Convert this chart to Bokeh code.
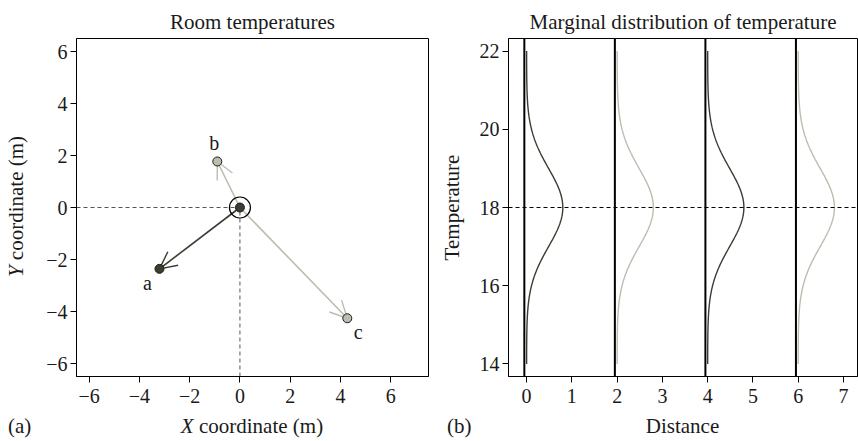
import numpy as np
from bokeh.plotting import figure
from bokeh.layouts import row, column
from bokeh.models import Arrow, OpenHead, FixedTicker, Range1d, Span, ColumnDataSource, Div
from bokeh.core.properties import value
from bokeh.embed import file_html
from bokeh.resources import INLINE

FONT = "Liberation Serif"
DARK = "#3c3c32"
LIGHT = "#bdbcb0"
INK = "#1a1a1a"

# ---- panel (a): sensor positions around the heater ----
room_names = ["a", "b", "c"]
room_x = [-3.2, -0.9, 4.27]
room_y = [-2.36, 1.77, -4.26]
room_colors = [DARK, LIGHT, LIGHT]
center_x = [0.0]
center_y = [0.0]
ticks_a = [-6, -4, -2, 0, 2, 4, 6]

# ---- panel (b): marginal temperature densities ----
curve_offsets = [0, 2, 4, 6]
curve_colors = [DARK, LIGHT, DARK, LIGHT]
baseline_x = [-0.05, 1.95, 3.95, 5.95]
temp_mean = 18.0
temp_sd = 1.0
peak_height = 0.8
temp_min, temp_max = 14.0, 22.0
ticks_b_x = [0, 1, 2, 3, 4, 5, 6, 7]
ticks_b_y = [14, 16, 18, 20, 22]


def minus(v):
    return str(v).replace("-", "\u2212")


def style(p, xticks, yticks):
    p.xgrid.visible = False
    p.ygrid.visible = False
    p.outline_line_color = "black"
    p.outline_line_width = 1
    p.background_fill_color = "white"
    p.border_fill_color = "white"
    p.title.text_font = FONT
    p.title.text_font_size = "21px"
    p.title.text_font_style = "normal"
    p.title.text_color = INK
    p.title.align = "center"
    p.title.standoff = 9
    for ax, ticks in ((p.xaxis, xticks), (p.yaxis, yticks)):
        ax.ticker = FixedTicker(ticks=ticks)
        ax.major_label_overrides = {t: minus(t) for t in ticks}
        ax.axis_line_color = "black"
        ax.major_tick_line_color = "black"
        ax.major_tick_out = 6
        ax.major_tick_in = 0
        ax.minor_tick_line_color = None
        ax.major_label_text_font = FONT
        ax.major_label_text_font_size = "20px"
        ax.major_label_text_color = INK
        ax.axis_label_text_font = FONT
        ax.axis_label_text_font_size = "21px"
        ax.axis_label_text_font_style = "normal"
        ax.axis_label_text_color = INK
    p.xaxis.major_label_standoff = 6
    p.yaxis.major_label_standoff = 3


FIG_H = 415

# ---------------- left figure ----------------
p1 = figure(width=399, height=FIG_H, x_range=Range1d(-6.5, 7.5), y_range=Range1d(-6.5, 6.5),
            output_backend="svg", toolbar_location=None, title="Room temperatures",
            min_border_left=46, min_border_right=1, min_border_top=38, min_border_bottom=39)
style(p1, ticks_a, ticks_a)

# dashed guides to the heater position
p1.line([p1.x_range.start, center_x[0]], [center_y[0], center_y[0]],
        line_color="#555555", line_dash="4 3", line_width=1)
p1.line([center_x[0], center_x[0]], [p1.y_range.start, center_y[0]],
        line_color="#555555", line_dash="4 3", line_width=1)

for x, y, c in zip(room_x, room_y, room_colors):
    arr = Arrow(end=OpenHead(size=17, line_color=c, line_width=1.4),
                x_start=center_x[0], y_start=center_y[0], x_end=x, y_end=y,
                line_color=c, line_width=1.6, level="underlay")
    p1.add_layout(arr)

src = ColumnDataSource(dict(x=room_x, y=room_y, c=room_colors, name=room_names,
                            dx=[-12, -3, 11], dy=[14, -18, 14]))
p1.scatter("x", "y", source=src, size=9, fill_color="c", line_color="#1e1e18", line_width=1)
p1.scatter(center_x, center_y, size=9, fill_color=DARK, line_color="#1e1e18", line_width=1)
p1.scatter(center_x, center_y, size=21, fill_color=None, line_color="black", line_width=1.2)
p1.text("x", "y", text="name", source=src, x_offset="dx", y_offset="dy",
        text_align="center", text_baseline="alphabetic", text_font=value(FONT),
        text_font_size="20px", text_color=INK)

# ---------------- right figure ----------------
p2 = figure(width=429, height=FIG_H, x_range=Range1d(-0.4, 7.31), y_range=Range1d(13.68, 22.32),
            output_backend="svg", toolbar_location=None, title="Marginal distribution of temperature",
            min_border_left=79, min_border_right=1, min_border_top=38, min_border_bottom=39,
            y_axis_label="Temperature")
style(p2, ticks_b_x, ticks_b_y)
p2.yaxis.axis_label_standoff = 13

for bx in baseline_x:
    p2.add_layout(Span(location=bx, dimension="height", line_color="black", line_width=2))
p2.add_layout(Span(location=temp_mean, dimension="width", line_color="black",
                   line_dash="4 3", line_width=1))

t = np.linspace(temp_min, temp_max, 241)
density = peak_height * np.exp(-0.5 * ((t - temp_mean) / temp_sd) ** 2)
for off, c in zip(curve_offsets, curve_colors):
    p2.line(off + density, t, line_color=c, line_width=1.4)

# ---------------- labels with italic axis symbols ----------------
font_css = f"font-family:'{FONT}'; font-size:21px; color:{INK}; white-space:nowrap;"

y_label = Div(width=30, height=FIG_H, margin=0, styles={"overflow": "visible"}, text=(
    f"<div style=\"width:{FIG_H}px; height:32px; line-height:32px; text-align:center; "
    f"transform-origin:0 0; transform:rotate(-90deg) translate(-{FIG_H - 1}px, 0); {font_css}\">"
    "<i>Y</i> coordinate (m)</div>"))

bottom = Div(width=858, height=441 - FIG_H, margin=0, styles={"overflow": "visible"}, text=(
    f"<div style=\"position:relative; width:858px; height:26px; {font_css}\">"
    "<span style=\"position:absolute; left:8px; top:-2px; line-height:26px;\">(a)</span>"
    "<span style=\"position:absolute; left:76px; width:352px; top:-2px; line-height:26px; "
    "text-align:center;\"><i>X</i> coordinate (m)</span>"
    "<span style=\"position:absolute; left:447px; top:-2px; line-height:26px;\">(b)</span>"
    "<span style=\"position:absolute; left:508px; width:349px; top:-2px; line-height:26px; "
    "text-align:center;\">Distance</span></div>"))

layout = column(row(y_label, p1, p2, spacing=0), bottom, spacing=0)
open("out.html", "w").write(file_html(layout, INLINE))
